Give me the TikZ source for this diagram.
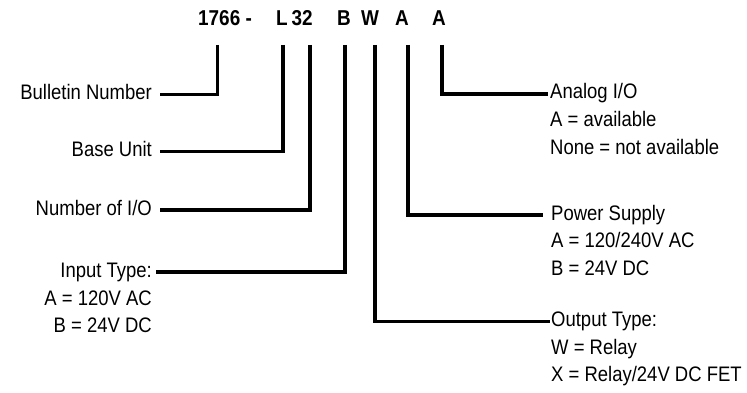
\documentclass[tikz,border=0pt]{standalone}
\usepackage{fontspec}
\setmainfont[FakeStretch=0.88]{Liberation Sans}
\begin{document}
\begin{tikzpicture}[x=1pt,y=-1pt,
  conn/.style={line width=3.2pt,line join=miter},
  lbl/.style={inner sep=0pt,text height=10pt,text depth=0pt,font=\fontsize{21}{24}\selectfont},
  sub/.style={inner sep=0pt,font=\fontsize{21}{24}\selectfont},
  ttl/.style={inner sep=0pt,anchor=base west,font=\bfseries\fontsize{21.5}{24}\selectfont}]
\useasboundingbox (0,0) rectangle (747,393);
% title
\node[ttl] (t0) at (198,26) {1766 -};
\node[ttl] (tL) at (276,26) {L};
\node[ttl] (t32) at (291.5,26) {32};
\node[ttl] (tB) at (337,26) {B};
\node[ttl] (tW) at (361,26) {W};
\node[ttl] (tA1) at (395,26) {A};
\node[ttl] (tA2) at (432,26) {A};
% line tops
\coordinate (c1) at (217.5,45);
\coordinate (c2) at (283,45);
\coordinate (c3) at (310,45);
\coordinate (c4) at (345,45);
\coordinate (c5) at (375,45);
\coordinate (c6) at (408,45);
\coordinate (c7) at (442,45);
% left labels
\node[lbl,anchor=base east] (bn) at (152,99.3) {Bulletin Number};
\node[lbl,anchor=base east] (bu) at (152,156.5) {Base Unit};
\node[lbl,anchor=base east] (ni) at (152,215) {Number of I/O};
\node[lbl,anchor=base east] (it) at (152,277) {Input Type:};
\node[sub,anchor=base east] (it1) at (152,305) {A = 120V AC};
\node[sub,anchor=base east] (it2) at (152,332.5) {B = 24V DC};
% right labels
\node[lbl,anchor=base west] (an) at (550,99) {Analog I/O};
\node[sub,anchor=base west] (an1) at (550,126.7) {A = available};
\node[sub,anchor=base west] (an2) at (550,154.3) {None = not available};
\node[lbl,anchor=base west] (ps) at (551,220) {Power Supply};
\node[sub,anchor=base west] (ps1) at (551,247.7) {A = 120/240V AC};
\node[sub,anchor=base west] (ps2) at (551,275) {B = 24V DC};
\node[lbl,anchor=base west] (ot) at (551,326.3) {Output Type:};
\node[sub,anchor=base west] (ot1) at (551,354) {W = Relay};
\node[sub,anchor=base west] (ot2) at (551,381) {X = Relay/24V DC FET};
% connectors
\draw[conn] (c1) |- ([xshift=8pt]bn.east);
\draw[conn] (c2) |- ([xshift=8pt]bu.east);
\draw[conn] (c3) |- ([xshift=8pt]ni.east);
\draw[conn] (c4) |- ([xshift=4pt]it.east);
\draw[conn] (c5) |- ([xshift=-1pt]ot.west);
\draw[conn] (c6) |- ([xshift=-8pt]ps.west);
\draw[conn] (c7) |- ([xshift=-2pt]an.west);
\end{tikzpicture}
\end{document}
